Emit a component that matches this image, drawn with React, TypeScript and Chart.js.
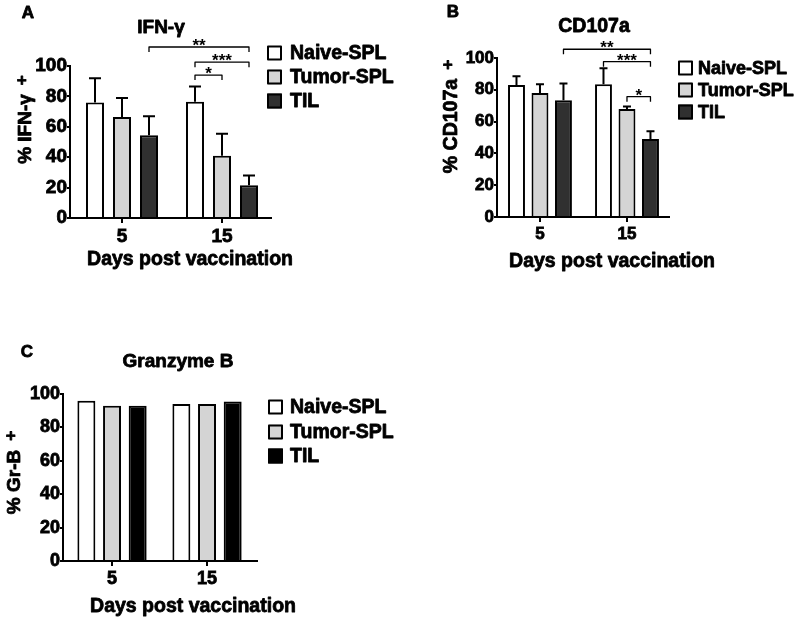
import React, { useEffect, useRef } from 'react';
import { Chart, registerables } from 'chart.js';

Chart.register(...registerables);

// ---------- data ----------
const DAYS = ['5', '15'];
const GROUPS = ['Naive-SPL', 'Tumor-SPL', 'TIL'];

// Panel A: IFN-γ (mean, upper SEM)
const IFN_NAIVE = [76, 76.5];
const IFN_NAIVE_ERR = [16, 10];
const IFN_TUMOR = [66.5, 41];
const IFN_TUMOR_ERR = [12.5, 14.5];
const IFN_TIL = [54.5, 21.5];
const IFN_TIL_ERR = [12.5, 6.5];

// Panel B: CD107a
const CD_NAIVE = [83, 83.5];
const CD_NAIVE_ERR = [5.5, 10];
const CD_TUMOR = [78, 68];
const CD_TUMOR_ERR = [5.5, 1.5];
const CD_TIL = [73.5, 49];
const CD_TIL_ERR = [10.5, 5];

// Panel C: Granzyme B
const GRB_NAIVE = [96, 94];
const GRB_TUMOR = [93, 94];
const GRB_TIL = [93, 95.5];

// significance brackets: [datasetIndex, dayIndex]
const IFN_SIG = [
  { from: [2, 0], to: [2, 1], level: 112.5, label: '**' },
  { from: [0, 1], to: [2, 1], level: 102.5, label: '***' },
  { from: [0, 1], to: [1, 1], level: 94, label: '*' },
];
const CD_SIG = [
  { from: [2, 0], to: [2, 1], level: 105.5, label: '**' },
  { from: [0, 1], to: [2, 1], level: 97.7, label: '***' },
  { from: [1, 1], to: [2, 1], level: 75.7, label: '*' },
];

// ---------- styling ----------
const FONT = "'Liberation Sans', Arial, Helvetica, sans-serif";
const WHITE = '#ffffff';
const GRAY = '#d4d4d4';
const DARK = '#303030';
const BLACK = '#000000';
const STROKE = 0.8;

type Series = { values: number[]; errors?: number[]; color: string };

type PanelSpec = {
  left: number; top: number; width: number; height: number;
  area: { left: number; right: number; top: number; bottom: number };
  xMin: number; xMax: number; barPct: number; tickSize: number; capW: number;
  series: Series[];
  sig: { from: number[]; to: number[]; level: number; label: string }[];
  sigSize: number;
  letter: { text: string; x: number; y: number };
  title: { text: string; x: number; y: number; size: number };
  yTitle: { text: string; x: number; y: number; size: number };
  xTitle: { text: string; x: number; y: number; size: number };
  legend: { x: number; textX: number; rows: number[]; size: number };
};

const PANELS: PanelSpec[] = [
  {
    left: 0, top: 0, width: 400, height: 300,
    area: { left: 70, right: 271, top: 66, bottom: 218 },
    xMin: -0.52, xMax: 1.49, barPct: 0.667, tickSize: 19, capW: 12,
    series: [
      { values: IFN_NAIVE, errors: IFN_NAIVE_ERR, color: WHITE },
      { values: IFN_TUMOR, errors: IFN_TUMOR_ERR, color: GRAY },
      { values: IFN_TIL, errors: IFN_TIL_ERR, color: DARK },
    ],
    sig: IFN_SIG, sigSize: 17,
    letter: { text: 'A', x: 28, y: 13 },
    title: { text: 'IFN-γ', x: 161, y: 28, size: 19 },
    yTitle: { text: '% IFN-γ', x: 26, y: 129, size: 19 },
    xTitle: { text: 'Days post vaccination', x: 190, y: 260, size: 19.5 },
    legend: { x: 267, textX: 290, rows: [53, 77, 101], size: 19.5 },
  },
  {
    left: 400, top: 0, width: 400, height: 300,
    area: { left: 97, right: 269, top: 58, bottom: 217 },
    xMin: -0.494, xMax: 1.483, barPct: 0.72, tickSize: 17, capW: 8,
    series: [
      { values: CD_NAIVE, errors: CD_NAIVE_ERR, color: WHITE },
      { values: CD_TUMOR, errors: CD_TUMOR_ERR, color: GRAY },
      { values: CD_TIL, errors: CD_TIL_ERR, color: DARK },
    ],
    sig: CD_SIG, sigSize: 17,
    letter: { text: 'B', x: 53, y: 12 },
    title: { text: 'CD107a', x: 194, y: 27, size: 19.5 },
    yTitle: { text: '% CD107a', x: 52, y: 126, size: 19.5 },
    xTitle: { text: 'Days post vaccination', x: 212, y: 262, size: 19.5 },
    legend: { x: 278, textX: 298, rows: [68, 90, 112], size: 18 },
  },
  {
    left: 0, top: 330, width: 400, height: 291,
    area: { left: 63, right: 257, top: 64, bottom: 231 },
    xMin: -0.516, xMax: 1.526, barPct: 0.7, tickSize: 18, capW: 10,
    series: [
      { values: GRB_NAIVE, color: WHITE },
      { values: GRB_TUMOR, color: GRAY },
      { values: GRB_TIL, color: BLACK },
    ],
    sig: [], sigSize: 17,
    letter: { text: 'C', x: 27, y: 22 },
    title: { text: 'Granzyme B', x: 178, y: 32, size: 19 },
    yTitle: { text: '% Gr-B', x: 15, y: 152, size: 19 },
    xTitle: { text: 'Days post vaccination', x: 193, y: 277, size: 19.5 },
    legend: { x: 268, textX: 290, rows: [77, 102, 126], size: 19.5 },
  },
];

function boldText(ctx: CanvasRenderingContext2D, text: string, x: number, y: number) {
  ctx.lineWidth = STROKE;
  ctx.strokeStyle = '#000';
  ctx.lineJoin = 'round';
  ctx.strokeText(text, x, y);
  ctx.fillText(text, x, y);
}

function decorPlugin(p: PanelSpec) {
  return {
    id: 'decor' + p.letter.text,
    afterDatasetsDraw(chart: any) {
      const ctx = chart.ctx;
      const yScale = chart.scales.y;
      ctx.save();
      ctx.strokeStyle = '#000';
      ctx.lineWidth = 2;
      chart.data.datasets.forEach((ds: any, i: number) => {
        const errs: number[] | undefined = ds.errors;
        if (!errs) return;
        const meta = chart.getDatasetMeta(i);
        meta.data.forEach((el: any, j: number) => {
          const v = p.series[i].values[j];
          const top = yScale.getPixelForValue(v + errs[j]);
          ctx.beginPath();
          ctx.moveTo(el.x, el.y);
          ctx.lineTo(el.x, top);
          ctx.moveTo(el.x - p.capW / 2, top);
          ctx.lineTo(el.x + p.capW / 2, top);
          ctx.stroke();
        });
      });
      ctx.restore();
    },
    afterDraw(chart: any) {
      const ctx = chart.ctx;
      const yScale = chart.scales.y;
      ctx.save();
      ctx.fillStyle = '#000';
      ctx.strokeStyle = '#000';

      // panel letter
      ctx.font = `bold 17px ${FONT}`;
      ctx.textAlign = 'center';
      ctx.textBaseline = 'middle';
      boldText(ctx, p.letter.text, p.letter.x, p.letter.y);

      // title
      ctx.font = `bold ${p.title.size}px ${FONT}`;
      boldText(ctx, p.title.text, p.title.x, p.title.y);

      // x title
      ctx.font = `bold ${p.xTitle.size}px ${FONT}`;
      boldText(ctx, p.xTitle.text, p.xTitle.x, p.xTitle.y);

      // y title with superscript +
      ctx.save();
      ctx.translate(p.yTitle.x, p.yTitle.y);
      ctx.rotate(-Math.PI / 2);
      ctx.font = `bold ${p.yTitle.size}px ${FONT}`;
      const w = ctx.measureText(p.yTitle.text).width;
      boldText(ctx, p.yTitle.text, 0, 0);
      ctx.font = `bold 17px ${FONT}`;
      boldText(ctx, '+', w / 2 + 14, -4);
      ctx.restore();

      // legend
      const box = 15;
      chart.data.datasets.forEach((ds: any, i: number) => {
        const cy = p.legend.rows[i];
        ctx.fillStyle = ds.backgroundColor;
        ctx.fillRect(p.legend.x, cy - box / 2, box, box);
        ctx.lineWidth = 2;
        ctx.strokeStyle = '#000';
        ctx.strokeRect(p.legend.x + 1, cy - box / 2 + 1, box - 2, box - 2);
        ctx.fillStyle = '#000';
        ctx.font = `bold ${p.legend.size}px ${FONT}`;
        ctx.textAlign = 'left';
        ctx.textBaseline = 'middle';
        boldText(ctx, ds.label, p.legend.textX, cy + 1);
      });

      // significance brackets
      p.sig.forEach((s) => {
        const a = chart.getDatasetMeta(s.from[0]).data[s.from[1]];
        const b = chart.getDatasetMeta(s.to[0]).data[s.to[1]];
        const y = yScale.getPixelForValue(s.level);
        ctx.lineWidth = 1.3;
        ctx.beginPath();
        ctx.moveTo(a.x, y + 5);
        ctx.lineTo(a.x, y);
        ctx.lineTo(b.x, y);
        ctx.lineTo(b.x, y + 5);
        ctx.stroke();
        ctx.font = `bold ${p.sigSize}px ${FONT}`;
        ctx.textAlign = 'center';
        ctx.textBaseline = 'alphabetic';
        ctx.fillText(s.label, (a.x + b.x) / 2, y + 4);
      });
      ctx.restore();
    },
  };
}

function makeConfig(p: PanelSpec): any {
  const xAxisH = 40;
  const datasets = p.series.map((s, i) => ({
    label: GROUPS[i],
    data: s.values.map((v, j) => ({ x: j, y: v })),
    errors: s.errors,
    backgroundColor: s.color,
    borderColor: '#000',
    borderWidth: 2,
    barPercentage: p.barPct,
    categoryPercentage: 0.81,
  }));
  const tickFont = { family: FONT, size: p.tickSize, weight: 'bold' as const };
  return {
    type: 'bar',
    data: { datasets },
    options: {
      responsive: false,
      animation: false,
      devicePixelRatio: 1,
      layout: {
        padding: {
          left: 0,
          top: p.area.top,
          right: p.width - p.area.right,
          bottom: p.height - p.area.bottom - xAxisH,
        },
      },
      plugins: { legend: { display: false }, tooltip: { enabled: false }, title: { display: false } },
      scales: {
        x: {
          type: 'linear',
          min: p.xMin,
          max: p.xMax,
          offset: false,
          afterFit: (s: any) => { s.height = xAxisH; },
          afterBuildTicks: (s: any) => {
            s.ticks = s.ticks.filter((t: any) => Number.isInteger(t.value) && t.value >= 0 && t.value < DAYS.length);
          },
          ticks: {
            stepSize: 1,
            includeBounds: false,
            autoSkip: false,
            maxRotation: 0,
            callback: (v: any) => DAYS[v] ?? '',
            font: tickFont,
            color: '#000',
            textStrokeColor: '#000',
            textStrokeWidth: STROKE,
            padding: 2,
          },
          grid: { display: true, offset: false, drawOnChartArea: false, drawTicks: true, tickLength: 5, color: '#000', lineWidth: 2 },
          border: { display: true, color: '#000', width: 2 },
        },
        y: {
          min: 0,
          max: 100,
          afterFit: (s: any) => { s.width = p.area.left; },
          ticks: {
            stepSize: 20,
            font: tickFont,
            color: '#000',
            textStrokeColor: '#000',
            textStrokeWidth: STROKE,
            padding: 0,
          },
          grid: { display: true, drawOnChartArea: false, drawTicks: true, tickLength: 3, color: '#000', lineWidth: 2 },
          border: { display: true, color: '#000', width: 2 },
        },
      },
    },
    plugins: [decorPlugin(p)],
  };
}

function Panel({ spec }: { spec: PanelSpec }) {
  const ref = useRef<HTMLCanvasElement>(null);
  useEffect(() => {
    const chart = new Chart(ref.current as HTMLCanvasElement, makeConfig(spec));
    return () => chart.destroy();
  }, [spec]);
  return (
    <div style={{ position: 'absolute', left: spec.left, top: spec.top, width: spec.width, height: spec.height }}>
      <canvas ref={ref} width={spec.width} height={spec.height} style={{ width: spec.width, height: spec.height, display: 'block' }} />
    </div>
  );
}

export default function App() {
  return (
    <div style={{ position: 'absolute', left: 0, top: 0, width: 800, height: 621, background: '#fff', overflow: 'hidden' }}>
      {PANELS.map((p) => (
        <Panel key={p.letter.text} spec={p} />
      ))}
    </div>
  );
}
